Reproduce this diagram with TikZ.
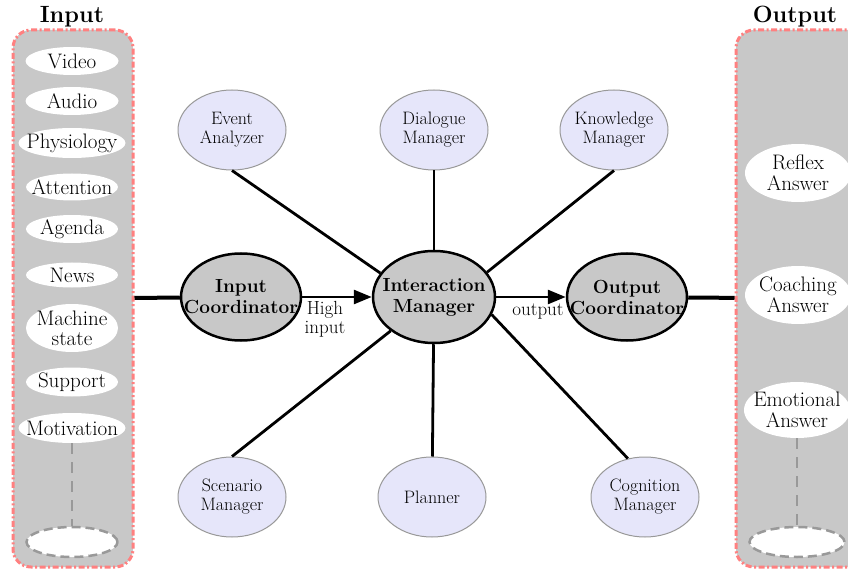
\documentclass[tikz,border=0pt]{standalone}
\usetikzlibrary{shapes.geometric,arrows.meta}
\definecolor{boxgray}{HTML}{C8C8C8}
\definecolor{bordred}{HTML}{FF8080}
\definecolor{lav}{HTML}{E6E6FA}
\definecolor{lavline}{HTML}{999999}
\definecolor{dashgray}{HTML}{999999}
\begin{document}
\begin{tikzpicture}[x=1pt,y=-1pt,
  fixell/.style={ellipse,inner xsep=-40pt,inner ysep=-20pt,align=center},
  container/.style={rectangle,rounded corners=18pt,fill=boxgray,draw=bordred,line width=3pt,
     dash pattern=on 6pt off 2.5pt on 2pt off 2.5pt,inner sep=0pt},
  item/.style={fixell,fill=white,draw=none,
     font=\fontsize{21}{20}\selectfont},
  ritem/.style={fixell,fill=white,draw=none,
     font=\fontsize{21}{21}\selectfont,minimum width=106pt,minimum height=58pt},
  dotsell/.style={ellipse,fill=white,draw=dashgray,line width=2.5pt,dash pattern=on 9pt off 5pt,
     inner sep=0pt,minimum height=30pt},
  dashline/.style={draw=dashgray,line width=2.5pt,dash pattern=on 11pt off 8pt},
  core/.style={fixell,fill=boxgray,draw=black,line width=2.5pt,
     font=\fontsize{19}{21}\selectfont\bfseries},
  sat/.style={fixell,fill=lav,draw=lavline,line width=1pt,
     minimum width=108pt,minimum height=80pt,font=\fontsize{18}{19}\selectfont},
  link/.style={line width=2.8pt,draw=black},
  heavy/.style={line width=4pt,draw=black},
  tip/.style={-{Triangle[length=18pt,width=14pt]}},
  lbl/.style={align=center,inner sep=0pt,font=\fontsize{19}{19}\selectfont},
  title/.style={inner sep=0pt,font=\fontsize{23.5}{24}\selectfont\bfseries}
]
\useasboundingbox (0,0) rectangle (848,569);
\clip (0,0) rectangle (848,569);
\fill[white] (0,0) rectangle (848,569);

% containers
\node[container,minimum width=120pt,minimum height=537pt] (inbox) at (73,298.5) {};
\node[container,minimum width=150pt,minimum height=537pt] (outbox) at (811,298.5) {};
\node[title] (tin) at (72,17) {Input};
\node[title] (tout) at (795,17) {Output};

% input items
\node[item,minimum width=93pt,minimum height=28pt] (video) at (72,61) {Video};
\node[item,minimum width=93pt,minimum height=28pt] (audio) at (72,101) {Audio};
\node[item,minimum width=107pt,minimum height=30pt] (phys) at (72,143) {Physiology};
\node[item,minimum width=92pt,minimum height=27pt] (att) at (72,187) {Attention};
\node[item,minimum width=92pt,minimum height=28pt] (agenda) at (72,229) {Agenda};
\node[item,minimum width=92pt,minimum height=25pt] (news) at (72,275) {News};
\node[item,minimum width=92pt,minimum height=48pt] (mach) at (72,328) {Machine\\state};
\node[item,minimum width=92pt,minimum height=29pt] (supp) at (72,382) {Support};
\node[item,minimum width=107pt,minimum height=30pt] (motiv) at (72,428) {Motivation};
\node[dotsell,minimum width=91pt] (ldots) at (72,542) {};
\draw[dashline] (motiv) -- (ldots);

% output items
\node[ritem] (reflex) at (798,173) {Reflex\\Answer};
\node[ritem] (coach) at (798,295) {Coaching\\Answer};
\node[ritem,minimum height=56pt] (emot) at (797,410) {Emotional\\Answer};
\node[dotsell,minimum width=95pt] (rdots) at (797,542) {};
\draw[dashline] (emot) -- (rdots);

% core
\node[core,minimum width=120pt,minimum height=87pt] (ic) at (241,297) {Input\\Coordinator};
\node[core,minimum width=122pt,minimum height=92pt] (im) at (434,297) {Interaction\\Manager};
\node[core,minimum width=120pt,minimum height=87pt] (oc) at (627,297) {Output\\Coordinator};

% satellites
\node[sat] (ea) at (232,130) {Event\\Analyzer};
\node[sat] (dm) at (434,130) {Dialogue\\Manager};
\node[sat] (km) at (614,130) {Knowledge\\Manager};
\node[sat] (sm) at (232,497) {Scenario\\Manager};
\node[sat] (pl) at (432,497) {Planner};
\node[sat] (cm) at (645,497) {Cognition\\Manager};

\draw[link] (ea.south) -- (im.156);
\draw[link] (dm) -- (im);
\draw[link] (km.south) -- (im.25);
\draw[link] (sm.north) -- (im.218);
\draw[link] (pl) -- (im);
\draw[link] (cm.114) -- (im.343);

\draw[heavy] (inbox) -- (ic);
\draw[heavy] (oc) -- (outbox);
\draw[link,tip] (ic) -- (im);
\draw[link,tip] (im) -- (oc);

\node[lbl,anchor=north] (hi) at (325,301) {High\\input};
\node[lbl,anchor=base] (outl) at (538,315) {output};
\end{tikzpicture}
\end{document}
